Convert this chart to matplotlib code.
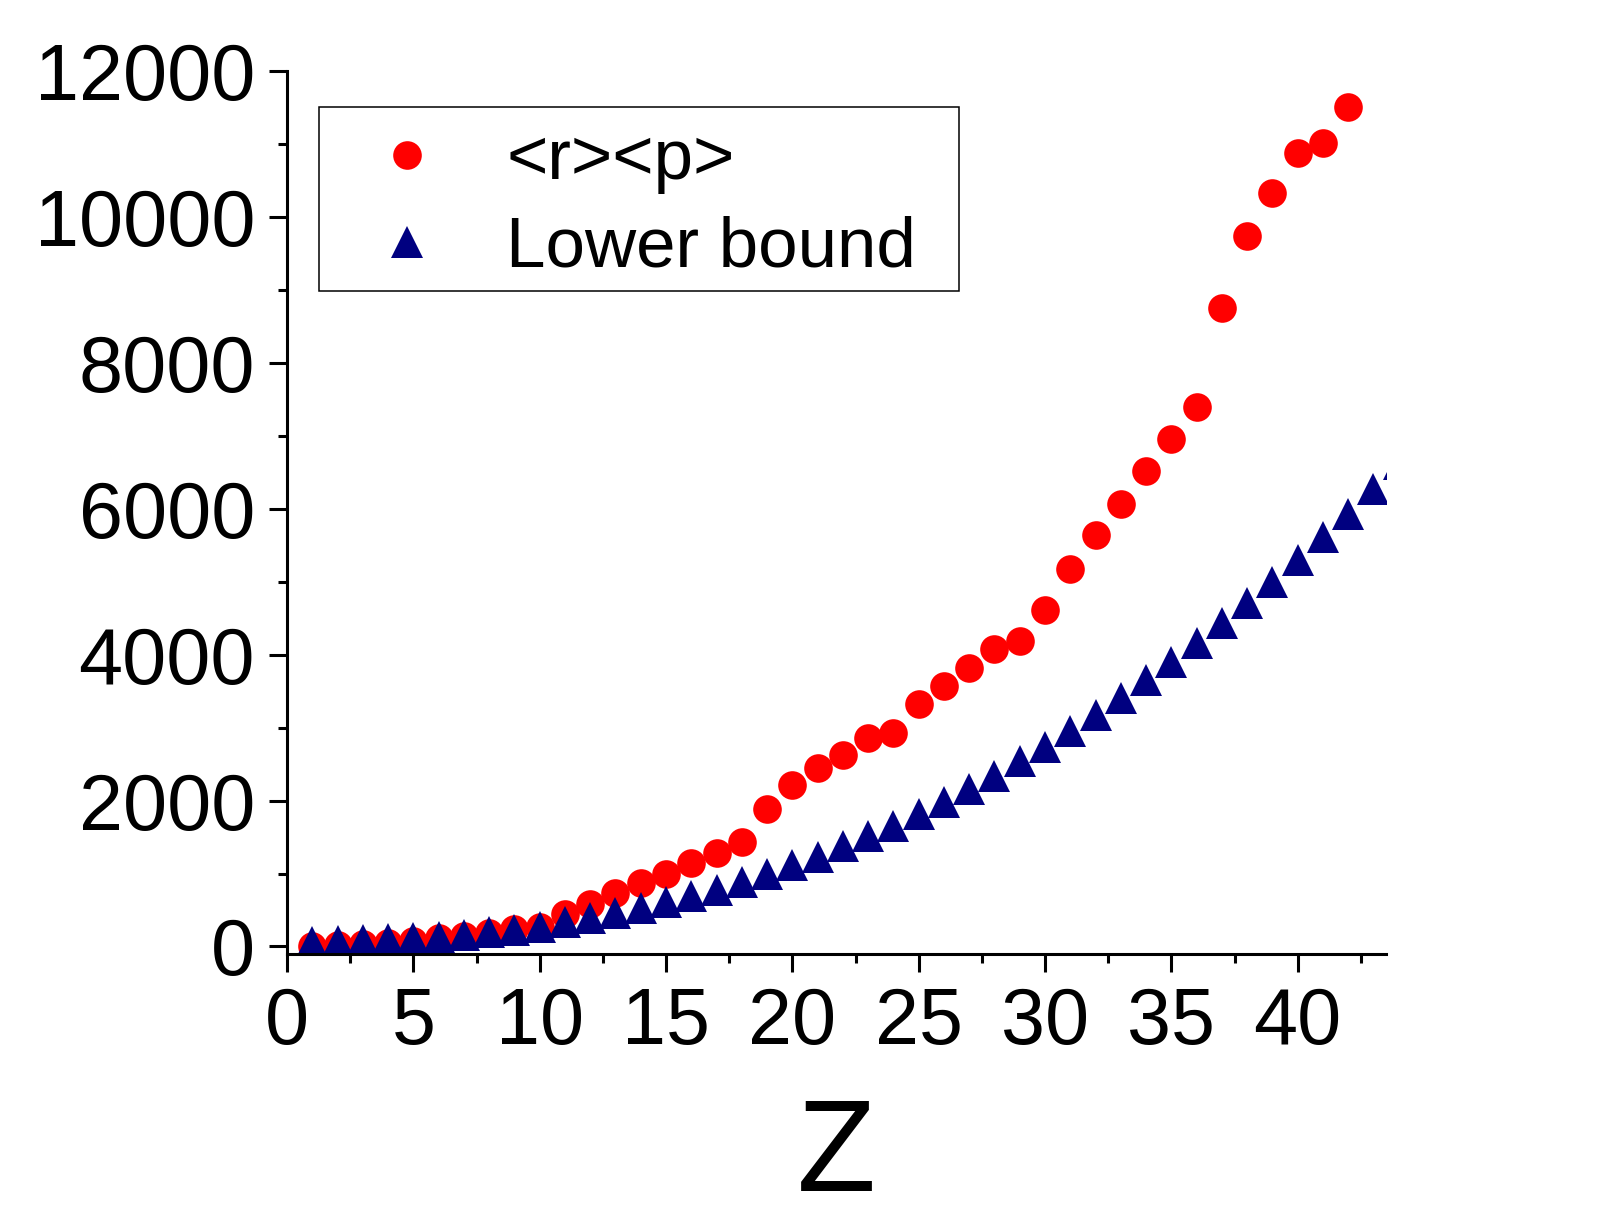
import matplotlib
matplotlib.use("Agg")
import matplotlib.pyplot as plt
from matplotlib.patches import Rectangle
from matplotlib.ticker import MultipleLocator

plt.rcParams['font.family'] = ['Liberation Sans', 'DejaVu Sans']

# <r><p> values, Z = 1..42
rp = [5, 20, 32, 50, 69, 110, 141, 178, 233, 270,
      445, 582, 738, 866, 989, 1149, 1286, 1428, 1885, 2214,
      2442, 2625, 2853, 2922, 3324, 3570, 3817, 4077, 4187, 4612,
      5174, 5640, 6065, 6522, 6956, 7390, 8747, 9738, 10323, 10871,
      11008, 11502]
# lower bound, Z = 1..44
lb = [60, 75, 85, 98, 112, 135, 162, 194, 231, 272,
      336, 391, 459, 523, 605, 688, 779, 884, 989, 1113,
      1231, 1373, 1515, 1652, 1816, 1983, 2161, 2337, 2538, 2737,
      2956, 3177, 3410, 3650, 3902, 4164, 4438, 4713, 4998, 5300,
      5613, 5932, 6268, 6613]
z_rp = list(range(1, len(rp) + 1))
z_lb = list(range(1, len(lb) + 1))

fig = plt.figure(figsize=(16.08, 12.30), dpi=100)
ax = fig.add_axes([0.1785, 0.2244, 0.6835, 0.7179])

ax.plot(z_rp, rp, linestyle='none', marker='o', markersize=20.6,
        markerfacecolor='#ff0000', markeredgewidth=0, label='<r><p>')
ax.plot(z_lb, lb, linestyle='none', marker='^', markersize=23.5,
        markerfacecolor='#000080', markeredgewidth=0, label='Lower bound')

ax.set_xlim(0, 43.5)
ax.set_ylim(-103, 12000)

ax.spines['top'].set_visible(False)
ax.spines['right'].set_visible(False)
for s in ['left', 'bottom']:
    ax.spines[s].set_linewidth(2.2)

ax.xaxis.set_major_locator(MultipleLocator(5))
ax.xaxis.set_minor_locator(MultipleLocator(2.5))
ax.yaxis.set_major_locator(MultipleLocator(2000))
ax.yaxis.set_minor_locator(MultipleLocator(1000))
ax.tick_params(which='major', direction='out', length=13, width=2.2, labelsize=57)
ax.tick_params(which='minor', direction='out', length=6.4, width=2.2)
ax.tick_params(axis='x', which='major', pad=10)
ax.tick_params(axis='y', which='major', pad=10)

ax.set_xlabel('Z', fontsize=93, labelpad=26)

# legend box drawn on its own, entries placed inside it
ax.add_patch(Rectangle((0.0291, 0.751), 0.5824, 0.208, transform=ax.transAxes,
                       fill=False, edgecolor='black', linewidth=1.1,
                       clip_on=False, zorder=4))
leg = ax.legend(loc='upper left', bbox_to_anchor=(0.0428, 0.935),
                borderaxespad=0, fontsize=51, numpoints=1, frameon=False,
                borderpad=0, labelspacing=0.30, handlelength=2.06,
                handletextpad=0.37)

fig.savefig('out.png', dpi=100)
